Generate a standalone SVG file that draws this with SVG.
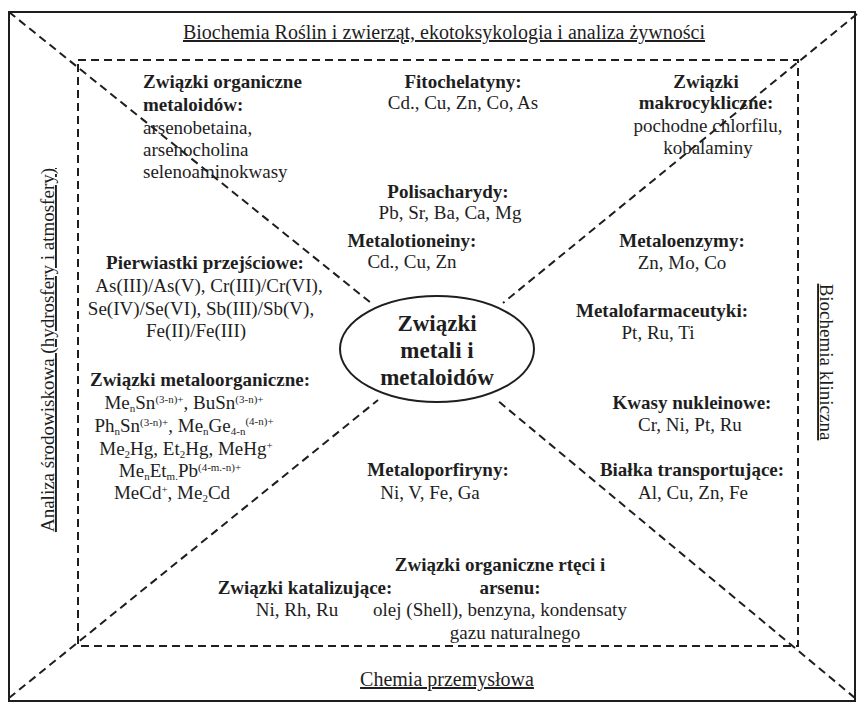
<svg xmlns="http://www.w3.org/2000/svg" width="859" height="703" viewBox="0 0 859 703">
<style>
.t{font-family:"Liberation Serif","Times New Roman",serif;font-size:19px;fill:#1e1e1e}
.b{font-weight:bold}
.c{text-anchor:middle}
.s{font-size:11px}
.u{text-decoration:underline}
.lab{font-size:20px}
.d{fill:none;stroke:#1e1e1e;stroke-width:2;stroke-dasharray:8 5}
</style>
<rect width="859" height="703" fill="#fff"/>
<g id="frame">
<rect x="9" y="12" width="846" height="689" fill="none" stroke="#1e1e1e" stroke-width="2"/>
<rect x="78" y="60" width="720" height="586" class="d"/>
</g>
<g id="connectors">
<line x1="9" y1="12" x2="371" y2="303" class="d"/>
<line x1="857" y1="14" x2="503" y2="303" class="d"/>
<line x1="9" y1="698" x2="378" y2="400" class="d"/>
<line x1="855" y1="698" x2="497" y2="400" class="d"/>
</g>
<g id="center">
<ellipse cx="437" cy="349" rx="97" ry="53" fill="none" stroke="#1e1e1e" stroke-width="2"/>
<text class="t b c" style="font-size:23px" x="437" y="331">Związki</text>
<text class="t b c" style="font-size:23px" x="437" y="358">metali i</text>
<text class="t b c" style="font-size:23px" x="437" y="385">metaloidów</text>
</g>
<g id="label-top"><text class="t c u lab" x="444" y="39">Biochemia Roślin i zwierząt, ekotoksykologia i analiza żywności</text></g>
<g id="label-bottom"><text class="t c u lab" x="447" y="686">Chemia przemysłowa</text></g>
<g id="label-left"><text class="t c u" transform="translate(54,350) rotate(-90)">Analiza środowiskowa (hydrosfery i atmosfery)</text></g>
<g id="label-right"><text class="t c u" transform="translate(820,362) rotate(90)">Biochemia kliniczna</text></g>
<g id="organiczne-metaloidow">
<text class="t b" x="143" y="88">Związki organiczne</text>
<text class="t b" x="143" y="111">metaloidów:</text>
<text class="t" x="143" y="134">arsenobetaina,</text>
<text class="t" x="143" y="156">arsenocholina</text>
<text class="t" x="143" y="178">selenoaminokwasy</text>
</g>
<g id="fitochelatyny">
<text class="t b c" x="463" y="88">Fitochelatyny:</text>
<text class="t c" x="463" y="109">Cd., Cu, Zn, Co, As</text>
</g>
<g id="makrocykliczne">
<text class="t b c" x="706" y="88">Związki</text>
<text class="t b c" x="706" y="109">makrocykliczne:</text>
<text class="t c" x="708" y="132">pochodne chlorfilu,</text>
<text class="t c" x="708" y="154">kobalaminy</text>
</g>
<g id="polisacharydy">
<text class="t b c" x="448" y="198">Polisacharydy:</text>
<text class="t c" x="450" y="219">Pb, Sr, Ba, Ca, Mg</text>
</g>
<g id="metalotioneiny">
<text class="t b c" x="412" y="247">Metalotioneiny:</text>
<text class="t c" x="412" y="268">Cd., Cu, Zn</text>
</g>
<g id="pierwiastki">
<text class="t b c" x="205" y="269">Pierwiastki przejściowe:</text>
<text class="t c" x="209" y="292">As(III)/As(V), Cr(III)/Cr(VI),</text>
<text class="t c" x="201" y="315">Se(IV)/Se(VI), Sb(III)/Sb(V),</text>
<text class="t c" x="196" y="337">Fe(II)/Fe(III)</text>
</g>
<g id="metaloorganiczne">
<text class="t b c" x="200" y="386">Związki metaloorganiczne:</text>
<text class="t c" x="184" y="409">Me<tspan class="s" dy="3">n</tspan><tspan dy="-3">Sn</tspan><tspan class="s" dy="-6">(3-n)+</tspan><tspan dy="6">, BuSn</tspan><tspan class="s" dy="-6">(3-n)+</tspan></text>
<text class="t c" x="184" y="432">Ph<tspan class="s" dy="3">n</tspan><tspan dy="-3">Sn</tspan><tspan class="s" dy="-6">(3-n)+</tspan><tspan dy="6">, Me</tspan><tspan class="s" dy="3">n</tspan><tspan dy="-3">Ge</tspan><tspan class="s" dy="3">4-n</tspan><tspan class="s" dy="-10">(4-n)+</tspan></text>
<text class="t c" x="186" y="455">Me<tspan class="s" dy="3">2</tspan><tspan dy="-3">Hg, Et</tspan><tspan class="s" dy="3">2</tspan><tspan dy="-3">Hg, MeHg</tspan><tspan class="s" dy="-6">+</tspan></text>
<text class="t c" x="180" y="477">Me<tspan class="s" dy="3">n</tspan><tspan dy="-3">Et</tspan><tspan class="s" dy="3">m.</tspan><tspan dy="-3">Pb</tspan><tspan class="s" dy="-6">(4-m.-n)+</tspan></text>
<text class="t c" x="172" y="499">MeCd<tspan class="s" dy="-6">+</tspan><tspan dy="6">, Me</tspan><tspan class="s" dy="3">2</tspan><tspan dy="-3">Cd</tspan></text>
</g>
<g id="metaloenzymy">
<text class="t b c" x="682" y="247">Metaloenzymy:</text>
<text class="t c" x="682" y="269">Zn, Mo, Co</text>
</g>
<g id="metalofarmaceutyki">
<text class="t b c" x="662" y="317">Metalofarmaceutyki:</text>
<text class="t c" x="658" y="339">Pt, Ru, Ti</text>
</g>
<g id="kwasy">
<text class="t b c" x="692" y="409">Kwasy nukleinowe:</text>
<text class="t c" x="690" y="431">Cr, Ni, Pt, Ru</text>
</g>
<g id="bialka">
<text class="t b c" x="692" y="476">Białka transportujące:</text>
<text class="t c" x="693" y="499">Al, Cu, Zn, Fe</text>
</g>
<g id="metaloporfiryny">
<text class="t b c" x="438" y="476">Metaloporfiryny:</text>
<text class="t c" x="430" y="499">Ni, V, Fe, Ga</text>
</g>
<g id="rteci-arsenu">
<text class="t b c" x="500" y="571">Związki organiczne rtęci i</text>
<text class="t b c" x="510" y="594">arsenu:</text>
<text class="t c" x="500" y="616">olej (Shell), benzyna, kondensaty</text>
<text class="t c" x="515" y="639">gazu naturalnego</text>
</g>
<g id="katalizujace">
<text class="t b c" x="305" y="594">Związki katalizujące:</text>
<text class="t c" x="297" y="616">Ni, Rh, Ru</text>
</g>
</svg>
